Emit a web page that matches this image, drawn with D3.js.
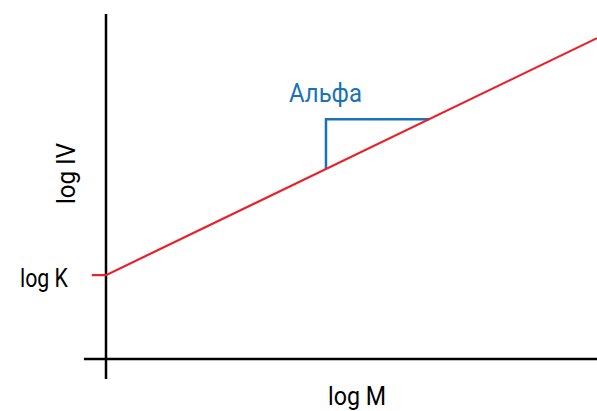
<!DOCTYPE html>
<html><head><meta charset="utf-8">
<script src="https://cdn.jsdelivr.net/npm/d3@7"></script>
<style>html,body{margin:0;padding:0;background:#fff;}</style>
</head><body>
<script>
// Data (arbitrary log units)
const lineX = [-0.29, 0, 10];
const lineY = [2.43, 2.43, 9.3];
const triX = [4.48, 4.48, 6.58];
const triY = [5.51, 6.95, 6.95];
const xAxisExtent = [-0.45, 10];
const yAxisExtent = [-0.58, 10];
const labels = {x: "log M", y: "log IV", k: "log K", alpha: "Альфа"};

const W = 597, H = 411;
const svg = d3.select("body").append("svg").attr("width", W).attr("height", H);
const x = d3.scaleLinear().domain([0, 10]).range([106, 597]);
const y = d3.scaleLinear().domain([0, 10]).range([359, 14]);

// axes
svg.append("line").attr("x1", x(xAxisExtent[0])).attr("x2", x(xAxisExtent[1]))
  .attr("y1", y(0)).attr("y2", y(0)).attr("stroke", "#000").attr("stroke-width", 2.5);
svg.append("line").attr("x1", x(0)).attr("x2", x(0))
  .attr("y1", y(yAxisExtent[0])).attr("y2", y(yAxisExtent[1])).attr("stroke", "#000").attr("stroke-width", 2.5);

const line = d3.line().x(d => x(d[0])).y(d => y(d[1]));
svg.append("path").attr("d", line(triX.map((v, i) => [v, triY[i]])))
  .attr("fill", "none").attr("stroke", "#1a72b8").attr("stroke-width", 2.5);
svg.append("path").attr("d", line(lineX.map((v, i) => [v, lineY[i]])))
  .attr("fill", "none").attr("stroke", "#e8212b").attr("stroke-width", 2.2);

const font = "Roboto, 'Open Sans', sans-serif";
function txt(s, px, py, len, color, rot, fs) {
  const t = svg.append("text").text(s).attr("font-family", font).attr("font-size", fs || 26)
    .attr("fill", color).attr("text-anchor", "middle")
    .attr("textLength", len).attr("lengthAdjust", "spacingAndGlyphs");
  if (rot) t.attr("transform", `translate(${px},${py}) rotate(-90)`);
  else t.attr("x", px).attr("y", py);
}
txt(labels.k, 44, 287, 48, "#000");
txt(labels.x, 357, 405, 58, "#000", false, 25);
txt(labels.alpha, 325.5, 102, 73, "#1a72b8");
txt(labels.y, 75, 173.5, 61, "#000", true);
</script>
</body></html>
